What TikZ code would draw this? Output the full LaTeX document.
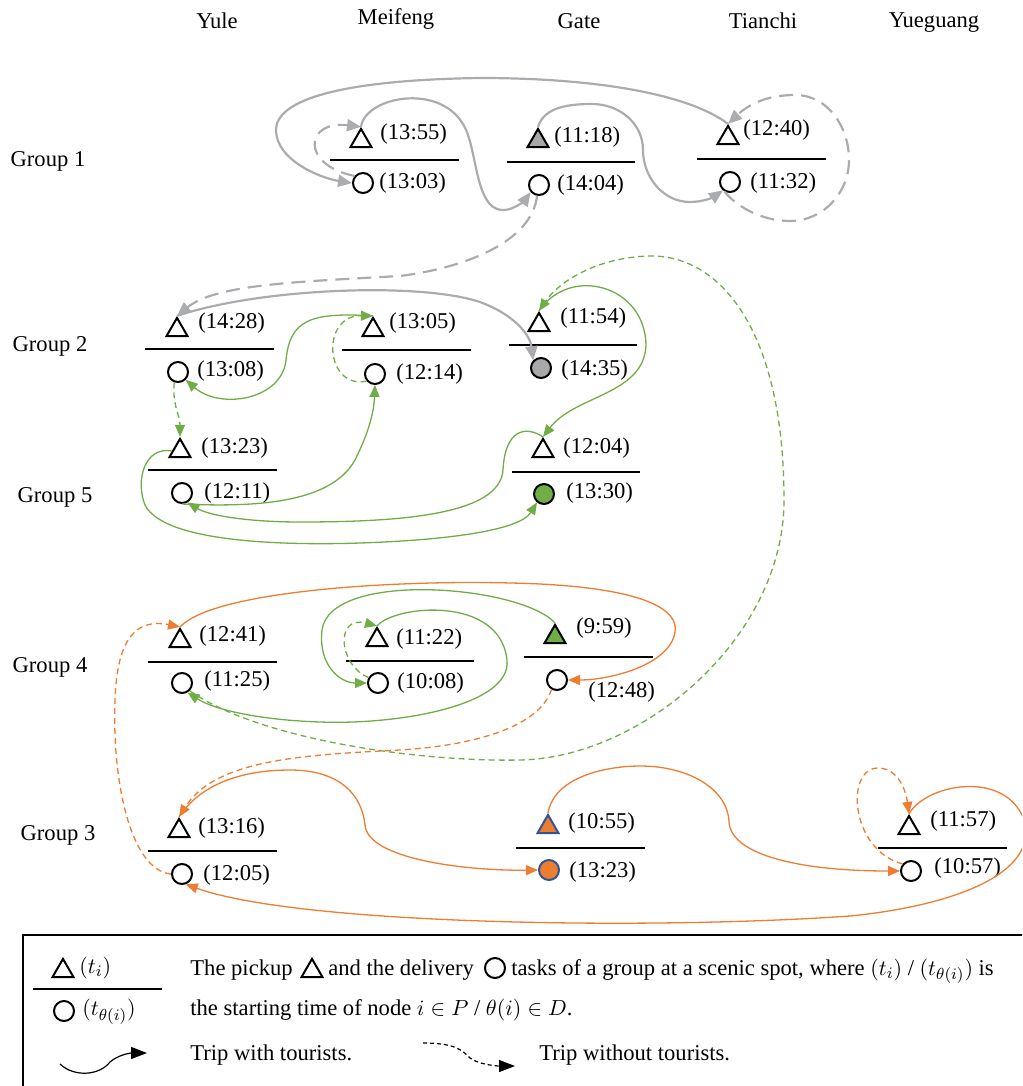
\documentclass[tikz,border=0pt]{standalone}
\usepackage{fontspec}
\setmainfont{Liberation Serif}
\usetikzlibrary{shapes.geometric, arrows.meta}
\definecolor{rgray}{RGB}{171,172,176}
\definecolor{fgray}{RGB}{168,168,170}
\definecolor{rgreen}{RGB}{112,173,71}
\definecolor{rorange}{RGB}{237,125,49}
\definecolor{rblue}{RGB}{47,85,151}

\begin{document}
\begin{tikzpicture}[x=0.5pt, y=-0.5pt,
    every node/.style={font=\fontsize{11.3}{13.5}\selectfont, inner sep=0pt},
    pick/.style={regular polygon, regular polygon sides=3, minimum size=12.1pt, draw, line width=1pt},
    drop/.style={circle, minimum size=10pt, draw, line width=1pt},
    lbl/.style={anchor=west},
    txt/.style={anchor=base west},
    bar/.style={line width=1.25pt},
    >={Triangle[length=6pt,width=5pt]},
    ride/.style={line width=0.65pt, ->},
    idle/.style={ride, dash pattern=on 3pt off 2pt},
    gride/.style={draw=rgray, line width=1.1pt, -{Triangle[length=7pt,width=6pt]}},
    gidle/.style={gride, dash pattern=on 7pt off 4pt}]

    \clip (0,0) rectangle (1022,1086);

    % Spots
    \node (hYule) at (217,21) {Yule};
    \node (hMei)  at (396,19) {Meifeng};
    \node (hGate) at (579,21) {Gate};
    \node (hTian) at (763,21) {Tianchi};
    \node (hYue)  at (934,23) {Yueguang};

    % Groups
    \node (gr1) at (48,161) {Group 1};
    \node (gr2) at (50,346) {Group 2};
    \node (gr5) at (55,497) {Group 5};
    \node (gr4) at (50,667) {Group 4};
    \node (gr3) at (58,835) {Group 3};

    % Group 1
    \node[pick] (me1t) at (361,141) {};
    \node[lbl] (me1tl) at (380,134) {(13:55)};
    \draw[bar] (330,160) -- (459,160);
    \node[drop] (me1c) at (363,183) {};
    \node[lbl] (me1cl) at (379,183) {(13:03)};

    \node[pick, fill=fgray] (ga1t) at (538,141) {};
    \node[lbl] (ga1tl) at (554,137) {(11:18)};
    \draw[bar] (507,162) -- (635,162);
    \node[drop] (ga1c) at (539,185) {};
    \node[lbl] (ga1cl) at (557,185) {(14:04)};

    \node[pick] (ti1t) at (728,138) {};
    \node[lbl] (ti1tl) at (743,130) {(12:40)};
    \draw[bar] (697,159) -- (826,159);
    \node[drop] (ti1c) at (730,182) {};
    \node[lbl] (ti1cl) at (750,183) {(11:32)};

    % Group 2
    \node[pick] (yu2t) at (177,330) {};
    \node[lbl] (yu2tl) at (198,323) {(14:28)};
    \draw[bar] (145,349) -- (274,349);
    \node[drop] (yu2c) at (178,372) {};
    \node[lbl] (yu2cl) at (197,371) {(13:08)};

    \node[pick] (me2t) at (373,330) {};
    \node[lbl] (me2tl) at (389,323) {(13:05)};
    \draw[bar] (342,350) -- (471,350);
    \node[drop] (me2c) at (375,374) {};
    \node[lbl] (me2cl) at (396,374) {(12:14)};

    \node[pick] (ga2t) at (539,325) {};
    \node[lbl] (ga2tl) at (560,318) {(11:54)};
    \draw[bar] (509,345) -- (637,345);
    \node[drop, fill=fgray] (ga2c) at (541,368) {};
    \node[lbl] (ga2cl) at (561,370) {(14:35)};

    % Group 5
    \node[pick] (yu5t) at (180,451) {};
    \node[lbl] (yu5tl) at (201,448) {(13:23)};
    \draw[bar] (148,470) -- (277,470);
    \node[drop] (yu5c) at (182,493) {};
    \node[lbl] (yu5cl) at (204,493) {(12:11)};

    \node[pick] (ga5t) at (543,451) {};
    \node[lbl] (ga5tl) at (563,448) {(12:04)};
    \draw[bar] (512,472) -- (640,472);
    \node[drop, fill=rgreen] (ga5c) at (544,494) {};
    \node[lbl] (ga5cl) at (566,493) {(13:30)};

    % Group 4
    \node[pick] (yu4t) at (180,641) {};
    \node[lbl] (yu4tl) at (199,636) {(12:41)};
    \draw[bar] (148,662) -- (277,662);
    \node[drop] (yu4c) at (182,683) {};
    \node[lbl] (yu4cl) at (204,681) {(11:25)};

    \node[pick] (me4t) at (377,640) {};
    \node[lbl] (me4tl) at (396,639) {(11:22)};
    \draw[bar] (346,661) -- (474,661);
    \node[drop] (me4c) at (378,683) {};
    \node[lbl] (me4cl) at (397,683) {(10:08)};

    \node[pick, fill=rgreen] (ga4t) at (555,637) {};
    \node[lbl] (ga4tl) at (576,628) {(9:59)};
    \draw[bar] (524,657) -- (653,657);
    \node[drop] (ga4c) at (557,680) {};
    \node[lbl] (ga4cl) at (588,692) {(12:48)};

    % Group 3
    \node[pick] (yu3t) at (179,831) {};
    \node[lbl] (yu3tl) at (198,828) {(13:16)};
    \draw[bar] (148,851) -- (277,851);
    \node[drop] (yu3c) at (182,874) {};
    \node[lbl] (yu3cl) at (203,875) {(12:05)};

    \node[pick, draw=rblue, fill=rorange] (ga3t) at (548,827) {};
    \node[lbl] (ga3tl) at (568,823) {(10:55)};
    \draw[bar] (516,848) -- (645,848);
    \node[drop, draw=rblue, fill=rorange] (ga3c) at (549,870) {};
    \node[lbl] (ga3cl) at (569,872) {(13:23)};

    \node[pick] (yg3t) at (909,828) {};
    \node[lbl] (yg3tl) at (930,821) {(11:57)};
    \draw[bar] (878,848) -- (1007,848);
    \node[drop] (yg3c) at (911,871) {};
    \node[lbl] (yg3cl) at (934,868) {(10:57)};

    % Grey vehicle
    \draw[gride] (ga1t.north) .. controls (544,107) and (569,104) .. (592,104) .. controls (619,104) and (643,123) .. (643,150) .. controls (643,177) and (663,202) .. (690,202) .. controls (705,202) and (715,196) .. (ti1c.230);
    \draw[gidle] (ti1c.240) .. controls (735,205) and (760,221) .. (790,221) .. controls (823,221) and (849,193) .. (849,160) .. controls (849,127) and (828,95) .. (795,95) .. controls (766,95) and (748,105) .. (ti1t.north);
    \draw[gride] (ti1t.north) .. controls (690,95) and (600,78) .. (480,78) .. controls (340,80) and (276,100) .. (276,130) .. controls (276,160) and (320,178) .. (me1c.west);
    \draw[gidle] (me1c.140) .. controls (300,165) and (305,120) .. (me1t.north);
    \draw[gride] (me1t.north) .. controls (365,95) and (450,80) .. (468,135) .. controls (478,165) and (478,212) .. (505,210) .. controls (515,209) and (525,200) .. (ga1c.220);
    \draw[gidle] (ga1c.-100) .. controls (532,240) and (470,267) .. (400,276) .. controls (290,282) and (215,285) .. (yu2t.north);
    \draw[gride] (yu2t.north) .. controls (260,288) and (420,282) .. (480,302) .. controls (515,315) and (530,335) .. (ga2c.north west);

    % Green vehicle
    \draw[ride, rgreen] (ga4t.north) .. controls (520,585) and (330,570) .. (322,630) .. controls (318,665) and (340,683) .. (me4c.west);
    \draw[idle, rgreen] (me4c.150) .. controls (338,665) and (335,615) .. (me4t.north);
    \draw[ride, rgreen] (me4t.north) .. controls (395,605) and (500,595) .. (507,660) .. controls (512,705) and (400,725) .. (320,722) .. controls (260,720) and (215,710) .. (yu4c.-60);
    \draw[idle, rgreen] (yu4c.-45) .. controls (260,740) and (420,762) .. (520,760) .. controls (640,758) and (784,640) .. (784,500) .. controls (784,330) and (720,255) .. (650,256) .. controls (600,257) and (560,280) .. (ga2t.north);
    \draw[ride, rgreen] (ga2t.north) .. controls (570,265) and (645,285) .. (646,345) .. controls (644,395) and (575,395) .. (ga5t.north);
    \draw[ride, rgreen] (ga5t.north) .. controls (525,425) and (505,430) .. (503,470) .. controls (500,515) and (400,522) .. (300,522) .. controls (250,522) and (210,516) .. (yu5c.-60);
    \draw[ride, rgreen] (yu5c.south) .. controls (250,507) and (330,505) .. (355,460) .. controls (370,430) and (374,410) .. (me2c.south);
    \draw[idle, rgreen] (me2c.220) .. controls (325,390) and (320,315) .. (me2t.north);
    \draw[ride, rgreen] (me2t.north) .. controls (310,312) and (290,320) .. (286,360) .. controls (282,400) and (220,410) .. (yu2c.-45);
    \draw[idle, rgreen] (yu2c.250) .. controls (172,405) and (180,415) .. (yu5t.north);
    \draw[ride, rgreen] (yu5t.west) .. controls (145,446) and (135,480) .. (145,505) .. controls (165,545) and (300,545) .. (360,543) .. controls (450,540) and (520,530) .. (ga5c.-130);

    % Orange vehicle
    \draw[ride, rorange] (ga3t.north) .. controls (555,775) and (610,766) .. (640,766) .. controls (690,766) and (728,790) .. (729,822) .. controls (731,855) and (800,871) .. (yg3c.west);
    \draw[idle, rorange] (yg3c.140) .. controls (850,850) and (845,768) .. (878,768) .. controls (895,768) and (905,785) .. (yg3t.north);
    \draw[ride, rorange] (yg3t.north) .. controls (925,785) and (1000,770) .. (1022,815) .. controls (1045,870) and (960,905) .. (850,916) .. controls (650,930) and (300,925) .. (yu3c.-70);
    \draw[idle, rorange] (yu3c.west) .. controls (130,870) and (112,780) .. (115,700) .. controls (117,640) and (135,618) .. (yu4t.north);
    \draw[ride, rorange] (yu4t.north) .. controls (215,590) and (400,580) .. (511,583) .. controls (610,585) and (680,600) .. (675,632) .. controls (670,665) and (610,680) .. (ga4c.east);
    \draw[idle, rorange] (ga4c.-120) .. controls (540,725) and (480,745) .. (400,750) .. controls (300,755) and (215,760) .. (yu3t.north);
    \draw[ride, rorange] (yu3t.north) .. controls (200,785) and (240,770) .. (290,770) .. controls (340,770) and (362,795) .. (365,825) .. controls (368,860) and (470,871) .. (ga3c.west);

    % Legend
    \draw[line width=1pt] (23,1100) -- (23,935) -- (1040,935);
    \node[pick] (lgt) at (63,971) {};
    \node[lbl] (lgtl) at (79,968) {$(t_i)$};
    \draw[bar] (33,989) -- (162,989);
    \node[drop] (lgc) at (64,1011) {};
    \node[lbl] (lgcl) at (82,1012) {$(t_{\theta(i)})$};

    \node[txt] (lg1a) at (190,975) {The pickup};
    \node[pick] (lg1t) at (312,971) {};
    \node[txt] (lg1b) at (328,975) {and the delivery};
    \node[drop] (lg1c) at (495,968) {};
    \node[txt] (lg1d) at (511,975) {tasks of a group at a scenic spot, where $(t_i)$ / $(t_{\theta(i)})$ is};
    \node[txt] (lg2) at (190,1015) {the starting time of node $i \in P$ / $\theta(i) \in D$.};
    \node[txt] (lg3a) at (190,1060) {Trip with tourists.};
    \node[txt] (lg3b) at (539,1060) {Trip without tourists.};

    \coordinate (lsa) at (60,1064);
    \coordinate (lsb) at (147,1053);
    \draw[line width=0.6pt, -{Triangle[length=8pt,width=6pt]}] (lsa) .. controls (75,1078) and (100,1075) .. (110,1062) .. controls (118,1055) and (130,1053) .. (lsb);
    \coordinate (lda) at (423,1043);
    \coordinate (ldb) at (515,1066);
    \draw[line width=0.6pt, dash pattern=on 2pt off 1.5pt, -{Triangle[length=8pt,width=6pt]}] (lda) .. controls (455,1043) and (462,1050) .. (470,1058) .. controls (478,1064) and (495,1066) .. (ldb);
\end{tikzpicture}
\end{document}
